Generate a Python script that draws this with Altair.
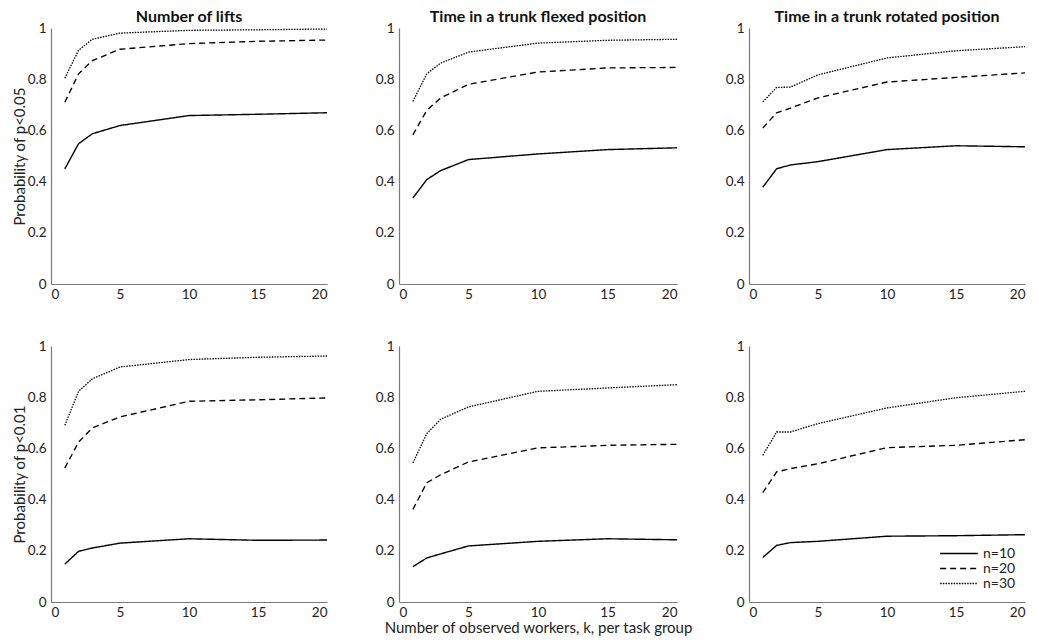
import altair as alt
import pandas as pd

k_values = [1, 2, 3, 5, 10, 15, 20]
series_labels = ["n=10", "n=20", "n=30"]
panel_titles = ["Number of lifts", "Time in a trunk flexed position", "Time in a trunk rotated position"]
row_titles = ["Probability of p<0.05", "Probability of p<0.01"]
x_title = "Number of observed workers, k, per task group"
y_ticks = [0, 0.2, 0.4, 0.6, 0.8, 1]
x_ticks = [0, 5, 10, 15, 20]

# Probability of p<0.05
lifts_p05_n10 = [0.450, 0.548, 0.587, 0.619, 0.658, 0.663, 0.669]
lifts_p05_n20 = [0.710, 0.821, 0.873, 0.917, 0.939, 0.948, 0.953]
lifts_p05_n30 = [0.804, 0.913, 0.956, 0.980, 0.991, 0.993, 0.996]
flexed_p05_n10 = [0.336, 0.408, 0.443, 0.486, 0.508, 0.525, 0.532]
flexed_p05_n20 = [0.583, 0.678, 0.727, 0.780, 0.828, 0.844, 0.846]
flexed_p05_n30 = [0.713, 0.821, 0.863, 0.906, 0.941, 0.952, 0.956]
rotated_p05_n10 = [0.378, 0.450, 0.465, 0.478, 0.525, 0.540, 0.536]
rotated_p05_n20 = [0.609, 0.669, 0.687, 0.727, 0.789, 0.807, 0.825]
rotated_p05_n30 = [0.711, 0.768, 0.769, 0.817, 0.883, 0.911, 0.927]

# Probability of p<0.01
lifts_p01_n10 = [0.148, 0.198, 0.211, 0.230, 0.247, 0.241, 0.242]
lifts_p01_n20 = [0.523, 0.625, 0.680, 0.723, 0.784, 0.790, 0.797]
lifts_p01_n30 = [0.690, 0.823, 0.872, 0.918, 0.947, 0.956, 0.961]
flexed_p01_n10 = [0.138, 0.172, 0.188, 0.219, 0.237, 0.247, 0.243]
flexed_p01_n20 = [0.362, 0.466, 0.497, 0.547, 0.602, 0.612, 0.616]
flexed_p01_n30 = [0.543, 0.658, 0.714, 0.762, 0.823, 0.836, 0.849]
rotated_p01_n10 = [0.174, 0.221, 0.232, 0.237, 0.257, 0.259, 0.263]
rotated_p01_n20 = [0.427, 0.508, 0.521, 0.540, 0.603, 0.612, 0.634]
rotated_p01_n30 = [0.573, 0.664, 0.664, 0.697, 0.758, 0.798, 0.823]

grid = [
    [[lifts_p05_n10, lifts_p05_n20, lifts_p05_n30],
     [flexed_p05_n10, flexed_p05_n20, flexed_p05_n30],
     [rotated_p05_n10, rotated_p05_n20, rotated_p05_n30]],
    [[lifts_p01_n10, lifts_p01_n20, lifts_p01_n30],
     [flexed_p01_n10, flexed_p01_n20, flexed_p01_n30],
     [rotated_p01_n10, rotated_p01_n20, rotated_p01_n30]],
]

FONT = "Lato"
COL_W = [276, 278, 276]
H = 256


def make_panel(series, r, c):
    rows = []
    for lab, vals in zip(series_labels, series):
        for k, v in zip(k_values, vals):
            rows.append({"k": k, "p": v, "n": lab})
    df = pd.DataFrame(rows)

    x_axis_kw = dict(values=x_ticks, ticks=False, grid=False, labelPadding=3, titlePadding=2)
    x_axis_kw["title"] = x_title if (r == 1 and c == 1) else None
    y_axis_kw = dict(values=y_ticks, ticks=False, grid=False, format="~g", labelPadding=5, titlePadding=0)
    y_axis_kw["title"] = row_titles[r] if c == 0 else None

    if r == 1 and c == 2:
        legend = alt.Legend(
            title=None, orient="none", legendX=190, legendY=200,
            symbolType="M-1,0H1", symbolSize=1420, symbolStrokeColor="black",
            symbolStrokeWidth=1.3, labelFont=FONT, labelFontSize=14,
            labelColor="#222222", rowPadding=0, labelOffset=4, clipHeight=15,
        )
    else:
        legend = None

    chart_kw = {}
    if r == 0:
        chart_kw["title"] = alt.Title(panel_titles[c], frame="group", offset=-4)

    return alt.Chart(df, **chart_kw).mark_line(color="black").encode(
        x=alt.X("k:Q", scale=alt.Scale(domain=[0, 20], nice=False), axis=alt.Axis(**x_axis_kw)),
        y=alt.Y("p:Q", scale=alt.Scale(domain=[0, 1], nice=False), axis=alt.Axis(**y_axis_kw)),
        strokeDash=alt.StrokeDash(
            "n:N",
            scale=alt.Scale(domain=series_labels, range=[[1, 0], [6, 4], [1.5, 1.2]]),
            legend=legend,
        ),
        strokeWidth=alt.StrokeWidth(
            "n:N",
            scale=alt.Scale(domain=series_labels, range=[1.4, 1.3, 1.1]),
            legend=None,
        ),
    ).properties(width=COL_W[c], height=H)


panels = [make_panel(grid[r][c], r, c) for r in range(2) for c in range(3)]

chart = alt.concat(
    *panels, columns=3, spacing={"row": 62, "column": 72}, bounds="flush"
).resolve_scale(
    strokeDash="independent", strokeWidth="independent"
).resolve_legend(
    strokeDash="independent", strokeWidth="independent"
).properties(
    padding={"left": 12, "top": 9, "right": 5, "bottom": 2}
).configure_view(stroke=None).configure_axis(
    labelFont=FONT, labelFontSize=13.5, labelColor="#222222",
    titleFont=FONT, titleFontSize=15, titleFontWeight="normal", titleColor="#222222",
    domainColor="#7a7a7a", domainWidth=1.2,
).configure_title(
    font=FONT, fontSize=16, fontWeight="bold", color="#111111", anchor="middle"
)

chart.save("out.html", embed_options={"renderer": "svg", "actions": False})
